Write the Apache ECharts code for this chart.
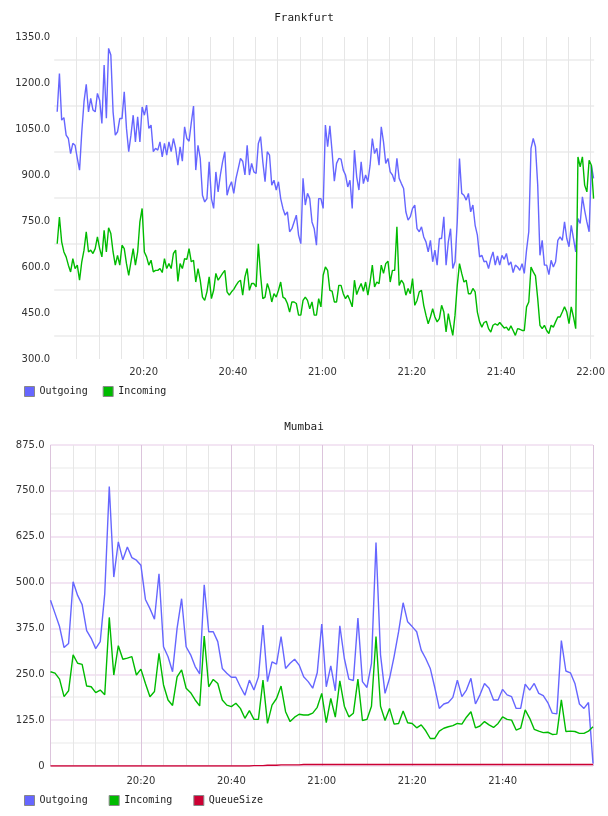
<!DOCTYPE html>
<html>
<head>
<meta charset="utf-8">
<script src="https://cdn.jsdelivr.net/npm/echarts@6/dist/echarts.min.js"></script>
<style>
html,body{margin:0;padding:0;background:#fff;}
#chart{width:608px;height:816px;}
</style>
</head>
<body>
<div id="chart"></div>
<script>
// ---- Frankfurt (samples every 30 s, starting 20:00:40) ----
const frankfurtStartMin = 0.67;   // minutes after 20:00
const frankfurtStepMin = 0.5;
const frankfurtOutgoing = [
  1106,1231,1079,1087,1030,1019,970,1003,997,954,
  916,1040,1139,1196,1106,1150,1112,1106,1166,1144,
  1068,1259,1085,1313,1291,1106,1030,1041,1084,1084,
  1171,1052,976,1030,1095,1008,1090,1008,1122,1095,
  1128,1052,1063,976,987,981,1008,959,1003,965,
  1008,976,1019,987,932,992,945,1057,1019,1010,
  1071,
  1125,916,997,954,834,812,823,943,823,791,
  910,845,900,943,976,834,861,878,840,889,
  921,954,945,900,997,900,938,910,905,1003,
  1025,943,878,976,965,867,883,851,878,823,
  791,769,780,715,725,747,769,704,676,889,
  802,840,823,747,725,671,823,823,791,1063,
  992,1060,976,880,938,954,952,916,900,861,
  883,791,981,894,851,943,872,900,878,932,
  1019,970,987,932,1057,1008,938,954,910,900,
  878,954,889,872,856,780,753,764,791,802,
  725,715,731,698,682,649,687,617,655,606,
  693,693,764,606,682,725,595,617,747,954,
  840,834,818,840,780,802,736,704,633,638,
  617,619,595,627,649,606,636,606,638,625,
  644,606,617,582,606,600,589,611,579,655,
  715,987,1019,992,867,638,687,606,606,575,
  622,600,617,687,698,687,747,693,666,736,
  693,649,758,742,829,785,747,715,932,889
];
const frankfurtIncoming = [
  676,763,682,649,633,606,584,627,595,606,
  557,617,655,715,649,655,644,660,698,660,
  633,720,649,728,709,649,606,638,606,671,
  660,611,573,617,660,606,649,747,791,649,
  633,606,622,584,589,589,595,582,627,595,
  611,595,644,655,553,611,595,627,625,660,
  617,
  622,551,595,557,502,491,519,568,497,524,
  579,557,568,579,589,519,508,519,527,540,
  551,557,508,568,595,524,546,546,535,676,
  573,497,502,546,524,486,513,502,524,551,
  502,497,481,453,486,486,481,443,443,491,
  502,491,464,486,443,443,497,470,573,600,
  589,524,521,486,486,540,540,513,497,508,
  491,470,557,510,530,546,521,551,508,551,
  606,535,551,546,606,579,611,619,551,589,
  589,731,540,557,546,508,530,513,562,475,
  491,519,524,475,443,415,437,464,437,421,
  432,475,453,388,448,410,377,443,540,611,
  579,551,557,513,513,530,519,453,421,404,
  419,423,399,388,410,415,410,419,410,401,
  404,393,408,393,377,399,397,393,393,470,
  486,600,584,571,497,410,399,410,393,383,
  410,404,421,437,437,453,470,453,415,470,
  437,399,959,927,959,867,845,948,932,823
];

// ---- Mumbai (samples every minute, starting 20:00) ----
const mumbaiStartMin = 0;
const mumbaiStepMin = 1;
const mumbaiOutgoing = [
  452,416,380,323,334,502,465,440,369,348,
  320,339,470,762,515,611,562,597,568,561,
  547,454,429,400,524,325,298,257,375,456,
  325,303,271,251,494,366,366,339,266,253,
  242,242,216,193,234,207,243,384,230,284,
  278,353,266,280,291,275,243,230,212,254,
  387,216,273,205,382,293,237,233,403,230,
  214,280,609,303,198,239,298,366,445,393,
  380,366,316,293,266,214,157,169,173,187,
  234,189,207,239,169,194,225,212,180,180,
  209,194,189,157,157,223,207,225,198,192,
  173,144,142,342,259,254,225,169,157,173,7
];
const mumbaiIncoming = [
  257,253,237,189,205,303,280,277,218,216,
  200,207,194,405,248,328,291,294,298,248,
  264,225,189,203,307,221,180,165,243,262,
  212,200,180,164,354,216,236,225,180,166,
  162,171,157,130,151,127,127,234,116,166,
  184,218,148,121,133,141,139,139,144,160,
  198,118,184,133,232,163,134,144,237,124,
  127,163,353,163,124,157,114,116,150,118,
  116,104,112,96,75,75,95,103,107,110,
  116,114,133,148,104,109,121,112,105,116,
  134,127,125,98,103,153,130,100,95,91,
  92,86,87,180,94,95,94,89,89,95,107
];
const mumbaiQueueSize = [
  0,0,0,0,0,0,0,0,0,0,
  0,0,0,0,0,0,0,0,0,0,
  0,0,0,0,0,0,0,0,0,0,
  0,0,0,0,0,0,0,0,0,0,
  0,0,0,0,0,1,1,1,2,2,
  2,3,3,3,3,3,4,4,4,4,
  4,4,4,4,4,4,4,4,4,4,
  4,4,4,4,4,4,4,4,4,4,
  4,4,4,4,4,4,4,4,4,4,
  4,4,4,4,4,4,4,4,4,4,
  4,4,4,4,4,4,4,4,4,4,
  4,4,4,4,4,4,4,4,4,4,4
];

// ---- tick labels ----
const frankfurtYTicks = [300, 450, 600, 750, 900, 1050, 1200, 1350];
const mumbaiYTicks = [0, 125, 250, 375, 500, 625, 750, 875];
const timeLabelsTop = ['20:20', '20:40', '21:00', '21:20', '21:40', '22:00'];
const timeLabelsBottom = ['20:20', '20:40', '21:00', '21:20', '21:40'];

function toPairs(arr, start, step) {
  return arr.map((v, i) => [start + i * step, v]);
}
function fmtTime(v) {
  const total = 20 * 60 + Math.round(v);
  const h = Math.floor(total / 60), m = total % 60;
  return h + ':' + (m < 10 ? '0' : '') + m;
}

const cOut = '#6666ff', cIn = '#00bb00', cQ = '#cc0033';
const labelFont = {fontFamily: 'DejaVu Sans', fontSize: 10, color: '#333'};
const monoFont = 'DejaVu Sans Mono';
const pinkV = '#dcc4dc', pinkH = '#efdcef', grayV = '#e6e6e6', grayH = '#f0f0f0';

const chart = echarts.init(document.getElementById('chart'), null, {renderer: 'canvas'});
chart.setOption({
  animation: false,
  backgroundColor: '#ffffff',
  title: [
    {text: 'Frankfurt', left: 'center', top: 13, padding: 0,
     textStyle: {fontFamily: monoFont, fontSize: 11, fontWeight: 'normal', color: '#222'}},
    {text: 'Mumbai', left: 'center', top: 422, padding: 0,
     textStyle: {fontFamily: monoFont, fontSize: 11, fontWeight: 'normal', color: '#222'}}
  ],
  legend: [
    {data: ['Outgoing', 'Incoming'], left: 24, top: 386, padding: 0, icon: 'rect',
     itemWidth: 10, itemHeight: 10, itemGap: 15,
     itemStyle: {borderColor: '#888', borderWidth: 1},
     textStyle: {fontFamily: monoFont, fontSize: 10, color: '#222'}},
    {data: ['Outgoing', 'Incoming', 'QueueSize'], left: 24, top: 795, padding: 0, icon: 'rect',
     itemWidth: 10, itemHeight: 10, itemGap: 21,
     itemStyle: {borderColor: '#888', borderWidth: 1},
     textStyle: {fontFamily: monoFont, fontSize: 10, color: '#222'}}
  ],
  grid: [
    {left: 54.2, top: 37, width: 540, height: 322},
    {left: 50.5, top: 445, width: 542.5, height: 321}
  ],
  xAxis: [
    {type: 'value', gridIndex: 0, min: 0, max: 120.8, interval: 5,
     axisLine: {show: false}, axisTick: {show: false},
     axisLabel: Object.assign({margin: 8, formatter: v => {
        const s = fmtTime(v); return timeLabelsTop.indexOf(s) >= 0 && v % 20 === 0 ? s : '';
     }}, labelFont),
     splitLine: {show: true, showMinLine: false, showMaxLine: false, lineStyle: {color: grayV, width: 1}}},
    {type: 'value', gridIndex: 1, min: 0, max: 120, interval: 5,
     axisLine: {show: false}, axisTick: {show: false},
     axisLabel: Object.assign({margin: 10, formatter: v => {
        const s = fmtTime(v); return timeLabelsBottom.indexOf(s) >= 0 && v % 20 === 0 ? s : '';
     }}, labelFont),
     splitLine: {show: true, lineStyle: {color: [pinkV, grayV, grayV, grayV], width: 1}}}
  ],
  yAxis: [
    {type: 'value', gridIndex: 0, min: 300, max: 1350, interval: 75,
     axisLine: {show: false}, axisTick: {show: false},
     axisLabel: Object.assign({margin: 4, formatter: v => frankfurtYTicks.indexOf(v) >= 0 ? v.toFixed(1) : ''}, labelFont),
     splitLine: {show: true, lineStyle: {color: ['rgba(0,0,0,0)', grayH], width: 2}}},
    {type: 'value', gridIndex: 1, min: 0, max: 875, interval: 62.5,
     axisLine: {show: false}, axisTick: {show: false},
     axisLabel: Object.assign({margin: 6, formatter: v => mumbaiYTicks.indexOf(v) >= 0 ? (v === 0 ? '0' : v.toFixed(1)) : ''}, labelFont),
     splitLine: {show: true, lineStyle: {color: [pinkH, grayH], width: 1.5}}}
  ],
  series: [
    {name: 'Outgoing', type: 'line', xAxisIndex: 0, yAxisIndex: 0, showSymbol: false, color: cOut,
     lineStyle: {width: 1.4, color: cOut}, data: toPairs(frankfurtOutgoing, frankfurtStartMin, frankfurtStepMin)},
    {name: 'Incoming', type: 'line', xAxisIndex: 0, yAxisIndex: 0, showSymbol: false, color: cIn,
     lineStyle: {width: 1.4, color: cIn}, data: toPairs(frankfurtIncoming, frankfurtStartMin, frankfurtStepMin)},
    {name: 'Outgoing', type: 'line', xAxisIndex: 1, yAxisIndex: 1, showSymbol: false, color: cOut,
     lineStyle: {width: 1.4, color: cOut}, data: toPairs(mumbaiOutgoing, mumbaiStartMin, mumbaiStepMin)},
    {name: 'Incoming', type: 'line', xAxisIndex: 1, yAxisIndex: 1, showSymbol: false, color: cIn,
     lineStyle: {width: 1.4, color: cIn}, data: toPairs(mumbaiIncoming, mumbaiStartMin, mumbaiStepMin)},
    {name: 'QueueSize', type: 'line', xAxisIndex: 1, yAxisIndex: 1, showSymbol: false, color: cQ,
     lineStyle: {width: 1.4, color: cQ}, data: toPairs(mumbaiQueueSize, mumbaiStartMin, mumbaiStepMin)}
  ]
});
</script>
</body>
</html>
